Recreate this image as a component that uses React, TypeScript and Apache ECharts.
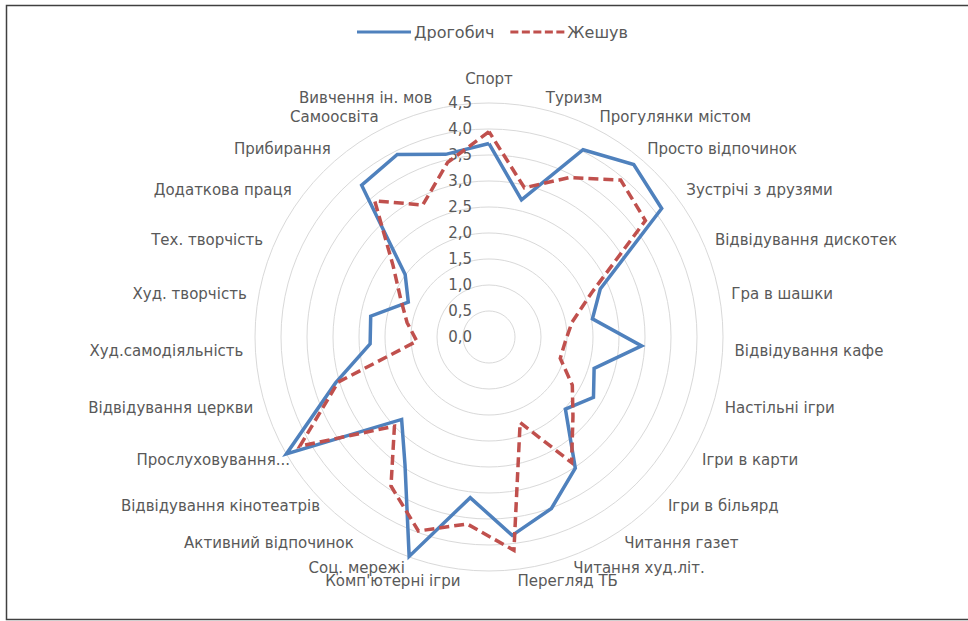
import React, { useEffect, useRef } from "react";
import * as echarts from "echarts";

const categories = [
  "Спорт",
  "Туризм",
  "Прогулянки містом",
  "Просто відпочинок",
  "Зустрічі з друзями",
  "Відвідування дискотек",
  "Гра в шашки",
  "Відвідування кафе",
  "Настільні ігри",
  "Ігри в карти",
  "Ігри в більярд",
  "Читання газет",
  "Читання худ.літ.",
  "Перегляд ТБ",
  "Комп'ютерні ігри",
  "Соц. мережі",
  "Активний відпочинок",
  "Відвідування кінотеатрів",
  "Прослуховування...",
  "Відвідування церкви",
  "Худ.самодіяльність",
  "Худ. творчість",
  "Тех. творчість",
  "Додаткова праця",
  "Прибирання",
  "Самоосвіта",
  "Вивчення ін. мов",
];

const drohobych = [
  3.72, 2.71, 4.03, 4.33, 4.14, 2.33, 2.02, 2.94, 2.11, 2.32, 2.02, 3.02, 3.51, 3.84,
  3.11, 4.49, 2.94, 2.31, 4.5, 3.08, 2.29, 2.31, 1.69, 2.01, 3.81, 3.93, 3.61,
];

const rzeszow = [
  3.95, 2.95, 3.43, 3.94, 3.75, 2.15, 1.62, 1.47, 1.43, 1.85, 2.22, 2.89, 1.75, 4.13,
  3.62, 3.97, 3.43, 2.5, 4.2, 3.03, 1.39, 1.6, 1.85, 2.3, 3.42, 2.84, 3.45,
];

const seriesNames = ["Дрогобич", "Жешув"];
const axisMin = 0;
const axisMax = 4.5;
const axisSplits = 9;

// ECharts radar runs counter-clockwise; reorder so the categories run clockwise.
const order = [0, ...categories.map((_, i) => categories.length - 1 - i).slice(0, categories.length - 1)];

export default function App() {
  const ref = useRef<HTMLDivElement>(null);
  useEffect(() => {
    document.body.style.margin = "0";
    const chart = echarts.init(ref.current!, null, { renderer: "svg" });
    const font = "DejaVu Sans";
    const blue = "#4F81BD";
    const red = "#C0504D";
    // label-only nudges reproducing where the original places two long labels
    const nameShift: Record<number, number> = { 17: -10, 18: -14 };
    chart.setOption({
      animation: false,
      backgroundColor: "#ffffff",
      legend: {
        top: 19,
        left: 352,
        itemWidth: 54,
        itemHeight: 3,
        itemGap: 16,
        textStyle: { color: "#595959", fontSize: 16, fontFamily: font, padding: [0, 0, 0, -2] },
        data: [
          { name: seriesNames[0], icon: "path://M0,0h54v3h-54z", itemStyle: { color: blue } },
          {
            name: seriesNames[1],
            icon: "path://M0,0h8v3h-8z M11.5,0h8v3h-8z M23,0h8v3h-8z M34.5,0h8v3h-8z M46,0h8v3h-8z",
            itemStyle: { color: red },
          },
        ],
      },
      graphic: [
        {
          type: "rect",
          shape: { x: 6.5, y: 5.5, width: 980, height: 614 },
          style: { fill: "none", stroke: "#404040", lineWidth: 1.5 },
          silent: true,
        },
      ],
      radar: {
        center: [489, 337],
        radius: 234,
        startAngle: 90,
        shape: "circle",
        splitNumber: axisSplits,
        nameGap: 12,
        axisName: { color: "#595959", fontSize: 15, fontFamily: font },
        splitLine: { lineStyle: { color: "#d9d9d9", width: 1 } },
        splitArea: { show: false },
        axisLine: { show: false },
        axisTick: { show: false },
        axisLabel: { show: false },
        indicator: order.map((idx) => ({
          name: categories[idx],
          min: axisMin,
          max: axisMax,
          ...(idx === 0 ? { nameGap: 17 } : {}),
          ...(nameShift[idx] !== undefined
            ? { nameTextStyle: { padding: [0, nameShift[idx], 0, 0] } }
            : {}),
          axisLabel:
            idx === 0
              ? {
                  show: true,
                  margin: 17,
                  color: "#595959",
                  fontSize: 15,
                  fontFamily: font,
                  formatter: (v: number) => v.toFixed(1).replace(".", ","),
                }
              : { show: false },
        })),
      },
      series: [
        {
          type: "radar",
          symbol: "none",
          data: [
            {
              name: seriesNames[0],
              value: order.map((i) => drohobych[i]),
              lineStyle: { color: blue, width: 3.5, join: "miter", cap: "butt" },
              itemStyle: { color: blue },
            },
            {
              name: seriesNames[1],
              value: order.map((i) => rzeszow[i]),
              lineStyle: { color: red, width: 3.5, type: [10, 5], join: "miter", cap: "butt" },
              itemStyle: { color: red },
            },
          ],
        },
      ],
    });
    return () => chart.dispose();
  }, []);
  return <div ref={ref} style={{ width: 968, height: 621 }} />;
}
